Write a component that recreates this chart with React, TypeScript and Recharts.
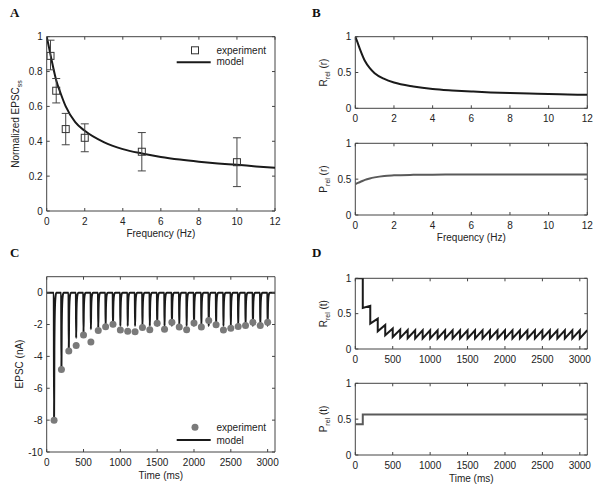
import React from 'react';
import { ComposedChart, Line, Scatter, XAxis, YAxis, ErrorBar, ReferenceArea, Legend } from 'recharts';

// ---------- Panel A data ----------
const freqExp = [0.2, 0.5, 1, 2, 5, 10];
const epscExp = [0.89, 0.69, 0.47, 0.42, 0.34, 0.28];
const epscErrLow = [0.08, 0.07, 0.09, 0.08, 0.11, 0.14];
const epscErrHigh = [0.09, 0.07, 0.09, 0.08, 0.11, 0.14];
const freqModel = [0, 0.1, 0.25, 0.5, 0.75, 1, 1.5, 2, 3, 4, 5, 6, 7, 8, 9, 10, 11, 12];
const epscModel = [1.0, 0.95, 0.87, 0.75, 0.67, 0.6, 0.51, 0.46, 0.395, 0.355, 0.33, 0.31, 0.295, 0.283, 0.273, 0.265, 0.256, 0.248];
const freqTicks = [0, 2, 4, 6, 8, 10, 12];
const epscTicks = [0, 0.2, 0.4, 0.6, 0.8, 1];

// ---------- Panel B data ----------
const rRelModel = [1.0, 0.93, 0.82, 0.66, 0.56, 0.49, 0.41, 0.36, 0.305, 0.27, 0.25, 0.235, 0.222, 0.212, 0.205, 0.198, 0.193, 0.188];
const pRelModel = [0.43, 0.445, 0.46, 0.49, 0.51, 0.525, 0.545, 0.553, 0.56, 0.563, 0.565, 0.565, 0.565, 0.565, 0.565, 0.565, 0.565, 0.565];
const relTicks = [0, 0.5, 1];

// ---------- Panel C data ----------
const stimTimes = [100, 200, 300, 400, 500, 600, 700, 800, 900, 1000, 1100, 1200, 1300, 1400, 1500, 1600, 1700, 1800, 1900, 2000, 2100, 2200, 2300, 2400, 2500, 2600, 2700, 2800, 2900, 3000];
const epscMeasured = [-8.0, -4.82, -3.67, -3.32, -2.66, -3.09, -2.37, -2.14, -1.98, -2.35, -2.43, -2.45, -2.19, -2.33, -1.92, -2.29, -1.86, -2.16, -2.33, -1.9, -2.16, -1.75, -2.02, -2.35, -2.23, -2.12, -2.06, -1.86, -2.06, -1.86];
const epscModelPeaks = [-8.1, -4.8, -3.55, -2.85, -2.5, -2.3, -2.2, -2.15, -2.12, -2.1, -2.1, -2.1, -2.1, -2.1, -2.1, -2.1, -2.1, -2.1, -2.1, -2.1, -2.1, -2.1, -2.1, -2.1, -2.1, -2.1, -2.1, -2.1, -2.1, -2.1];
const spikeOffsets = [-4, 0, 4, 10, 18, 30];
const spikeShape = [0, 1, 0.45, 0.15, 0.04, 0];
const timeTicks = [0, 500, 1000, 1500, 2000, 2500, 3000];
const epscNaTicks = [-10, -8, -6, -4, -2, 0];

// ---------- Panel D data ----------
const rBeforeStim = [1.0, 0.61, 0.43, 0.34, 0.29, 0.275, 0.268, 0.265, 0.265, 0.265, 0.265, 0.265, 0.265, 0.265, 0.265, 0.265, 0.265, 0.265, 0.265, 0.265, 0.265, 0.265, 0.265, 0.265, 0.265, 0.265, 0.265, 0.265, 0.265, 0.265];
const rAfterStim = [0.58, 0.36, 0.25, 0.195, 0.17, 0.158, 0.153, 0.15, 0.15, 0.15, 0.15, 0.15, 0.15, 0.15, 0.15, 0.15, 0.15, 0.15, 0.15, 0.15, 0.15, 0.15, 0.15, 0.15, 0.15, 0.15, 0.15, 0.15, 0.15, 0.15];
const rEnd = 0.265;
const pTimes = [0, 100, 100, 3100];
const pValues = [0.43, 0.43, 0.565, 0.565];

// ---------- tables built from the arrays ----------
const modelA = freqModel.map((x, i) => ({ x, y: epscModel[i] }));
const expA = freqExp.map((x, i) => ({ x, y: epscExp[i], err: [epscErrLow[i], epscErrHigh[i]] }));
const rRelB = freqModel.map((x, i) => ({ x, y: rRelModel[i] }));
const pRelB = freqModel.map((x, i) => ({ x, y: pRelModel[i] }));
const expC = stimTimes.map((x, i) => ({ x, y: epscMeasured[i] }));
const modelC: { x: number; y: number }[] = [{ x: 0, y: 0 }];
stimTimes.forEach((t, i) => {
  spikeOffsets.forEach((o, j) => modelC.push({ x: t + o, y: epscModelPeaks[i] * spikeShape[j] }));
});
modelC.push({ x: 3100, y: 0 });
const rRelD: { x: number; y: number }[] = [{ x: 0, y: 1 }];
stimTimes.forEach((t, i) => {
  rRelD.push({ x: t, y: rBeforeStim[i] });
  rRelD.push({ x: t, y: rAfterStim[i] });
});
rRelD.push({ x: 3100, y: rEnd });
const pRelD = pTimes.map((x, i) => ({ x, y: pValues[i] }));

// ---------- styling ----------
const FONT = '"Liberation Sans", Arial, Helvetica, sans-serif';
const AXIS = '#444';
const TEXT = '#222';
const LINE = '#1a1a1a';
const GRAY_LINE = '#5a5a5a';
const TICK = 3;

const makeXTick = (plotH: number) => (props: any) => {
  const { x, y, payload } = props;
  return (
    <g>
      <line x1={x} x2={x} y1={y} y2={y - TICK} stroke={AXIS} strokeWidth={1} />
      <line x1={x} x2={x} y1={y - plotH} y2={y - plotH + TICK} stroke={AXIS} strokeWidth={1} />
      <text x={x} y={y + 14} textAnchor="middle" fontSize={10} fill={TEXT} fontFamily={FONT}>
        {String(payload.value)}
      </text>
    </g>
  );
};

const makeYTick = (plotW: number) => (props: any) => {
  const { x, y, payload } = props;
  return (
    <g>
      <line x1={x} x2={x + TICK} y1={y} y2={y} stroke={AXIS} strokeWidth={1} />
      <line x1={x + plotW} x2={x + plotW - TICK} y1={y} y2={y} stroke={AXIS} strokeWidth={1} />
      <text x={x - 4} y={y + 3.5} textAnchor="end" fontSize={10} fill={TEXT} fontFamily={FONT}>
        {String(payload.value)}
      </text>
    </g>
  );
};

const YTitle = (props: any) => {
  const { px, py, main, sub, tail } = props;
  return (
    <text
      x={px}
      y={py}
      transform={`rotate(-90, ${px}, ${py})`}
      textAnchor="middle"
      fontSize={10}
      fill={TEXT}
      fontFamily={FONT}
    >
      <tspan>{main}</tspan>
      {sub ? (
        <tspan dy={3} fontSize={7}>
          {sub}
        </tspan>
      ) : null}
      {tail ? <tspan dy={sub ? -3 : 0}>{tail}</tspan> : null}
    </text>
  );
};

const SquareShape = (props: any) => {
  const { cx, cy } = props;
  return <rect x={cx - 3.5} y={cy - 3.5} width={7} height={7} fill="none" stroke="#333" strokeWidth={1} />;
};

const DotShape = (props: any) => {
  const { cx, cy } = props;
  return <circle cx={cx} cy={cy} r={3.5} fill="#7a7a7a" stroke="none" />;
};

const LegendA = () => (
  <svg width={100} height={32} style={{ display: 'block' }}>
    <rect x={21.5} y={8.8} width={7} height={7} fill="none" stroke="#333" strokeWidth={1} />
    <text x={46.5} y={15.5} fontSize={10} fill={TEXT} fontFamily={FONT}>experiment</text>
    <line x1={6.7} x2={40.7} y1={24.3} y2={24.3} stroke={LINE} strokeWidth={2} />
    <text x={46.5} y={27.3} fontSize={10} fill={TEXT} fontFamily={FONT}>model</text>
  </svg>
);

const LegendC = () => (
  <svg width={100} height={32} style={{ display: 'block' }}>
    <circle cx={25} cy={12.3} r={3.5} fill="#7a7a7a" />
    <text x={46.5} y={15.8} fontSize={10} fill={TEXT} fontFamily={FONT}>experiment</text>
    <line x1={6.7} x2={40.7} y1={25} y2={25} stroke={LINE} strokeWidth={2} />
    <text x={46.5} y={28.5} fontSize={10} fill={TEXT} fontFamily={FONT}>model</text>
  </svg>
);

const xLabel = (value: string) => ({ value, position: 'insideBottom' as const, offset: 0, fontSize: 10, fill: TEXT });

const panel = (left: number, top: number, children: React.ReactNode) => (
  <div style={{ position: 'absolute', left, top }}>{children}</div>
);

export default function App() {
  const aM = { top: 36.7, right: 25, bottom: 8, left: 0 };
  const aYW = 46.7;
  const aXH = 26;
  const aPW = 300 - aM.right - aYW;
  const aPH = 245 - aM.top - aM.bottom - aXH;

  const bM1 = { top: 36.7, right: 12.7, bottom: 2.7, left: 0 };
  const bM2 = { top: 15.3, right: 12.7, bottom: 2, left: 0 };
  const bYW = 55.3;
  const bPW = 300 - 12.7 - bYW;
  const bPH1 = 128 - bM1.top - bM1.bottom - 17;
  const bPH2 = 115 - bM2.top - bM2.bottom - 26;

  const cM = { top: 31.7, right: 25, bottom: 11, left: 0 };
  const cPH = 245 - cM.top - cM.bottom - 27;

  const dM1 = { top: 33.3, right: 12.7, bottom: 4, left: 0 };
  const dM2 = { top: 13.3, right: 12.7, bottom: 3, left: 0 };
  const dPH1 = 125 - dM1.top - dM1.bottom - 17;
  const dPH2 = 115 - dM2.top - dM2.bottom - 27;

  const axisCommon = { axisLine: false, tickLine: false, tickSize: 0, tickMargin: 0, interval: 0 as const, allowDataOverflow: true };

  return (
    <div style={{ position: 'absolute', left: 0, top: 0, width: 600, height: 490, background: '#fff', fontFamily: FONT }}>
      {panel(
        0,
        0,
        <ComposedChart width={300} height={245} margin={aM}>
          <XAxis type="number" dataKey="x" domain={[0, 12]} ticks={freqTicks} height={aXH} {...axisCommon} tick={makeXTick(aPH)} label={xLabel('Frequency (Hz)')} />
          <YAxis type="number" domain={[0, 1]} ticks={epscTicks} width={aYW} {...axisCommon} tick={makeYTick(aPW)} label={<YTitle px={18.5} py={124} main="Normalized EPSC" sub="ss" />} />
          <ReferenceArea x1={0} x2={12} y1={0} y2={1} fill="none" stroke={AXIS} strokeWidth={1} ifOverflow="visible" />
          <Line data={modelA} dataKey="y" type="monotone" stroke={LINE} strokeWidth={2} dot={false} isAnimationActive={false} />
          <Scatter data={expA} dataKey="y" shape={SquareShape} isAnimationActive={false}>
            <ErrorBar dataKey="err" direction="y" width={4} stroke="#444" strokeWidth={1} />
          </Scatter>
          <Legend
            layout="vertical"
            align="center"
            verticalAlign="middle"
            width={100}
            height={32}
            wrapperStyle={{ left: 170, top: 38, width: 100, height: 32 }}
            content={() => <LegendA />}
          />
        </ComposedChart>
      )}

      {panel(
        300,
        0,
        <ComposedChart width={300} height={128} margin={bM1}>
          <XAxis type="number" dataKey="x" domain={[0, 12]} ticks={freqTicks} height={17} {...axisCommon} tick={makeXTick(bPH1)} />
          <YAxis type="number" domain={[0, 1]} ticks={relTicks} width={bYW} {...axisCommon} tick={makeYTick(bPW)} label={<YTitle px={27} py={72.5} main="R" sub="rel" tail=" (r)" />} />
          <ReferenceArea x1={0} x2={12} y1={0} y2={1} fill="none" stroke={AXIS} strokeWidth={1} ifOverflow="visible" />
          <Line data={rRelB} dataKey="y" type="monotone" stroke={LINE} strokeWidth={2} dot={false} isAnimationActive={false} />
        </ComposedChart>
      )}

      {panel(
        300,
        128,
        <ComposedChart width={300} height={115} margin={bM2}>
          <XAxis type="number" dataKey="x" domain={[0, 12]} ticks={freqTicks} height={26} {...axisCommon} tick={makeXTick(bPH2)} label={xLabel('Frequency (Hz)')} />
          <YAxis type="number" domain={[0, 1]} ticks={relTicks} width={bYW} {...axisCommon} tick={makeYTick(bPW)} label={<YTitle px={27} py={51} main="P" sub="rel" tail=" (r)" />} />
          <ReferenceArea x1={0} x2={12} y1={0} y2={1} fill="none" stroke={AXIS} strokeWidth={1} ifOverflow="visible" />
          <Line data={pRelB} dataKey="y" type="monotone" stroke={GRAY_LINE} strokeWidth={2} dot={false} isAnimationActive={false} />
        </ComposedChart>
      )}

      {panel(
        0,
        245,
        <ComposedChart width={300} height={245} margin={cM}>
          <XAxis type="number" dataKey="x" domain={[0, 3100]} ticks={timeTicks} height={27} {...axisCommon} tick={makeXTick(cPH)} label={xLabel('Time (ms)')} />
          <YAxis type="number" domain={[-10, 1]} ticks={epscNaTicks} width={aYW} {...axisCommon} tick={makeYTick(aPW)} label={<YTitle px={23} py={119} main="EPSC (nA)" />} />
          <ReferenceArea x1={0} x2={3100} y1={-10} y2={1} fill="none" stroke={AXIS} strokeWidth={1} ifOverflow="visible" />
          <Line data={modelC} dataKey="y" type="monotone" stroke={LINE} strokeWidth={2} dot={false} isAnimationActive={false} />
          <Scatter data={expC} dataKey="y" shape={DotShape} isAnimationActive={false} />
          <Legend
            layout="vertical"
            align="center"
            verticalAlign="middle"
            width={100}
            height={32}
            wrapperStyle={{ left: 170, top: 170, width: 100, height: 32 }}
            content={() => <LegendC />}
          />
        </ComposedChart>
      )}

      {panel(
        300,
        245,
        <ComposedChart width={300} height={125} margin={dM1}>
          <XAxis type="number" dataKey="x" domain={[0, 3100]} ticks={timeTicks} height={17} {...axisCommon} tick={makeXTick(dPH1)} />
          <YAxis type="number" domain={[0, 1]} ticks={relTicks} width={bYW} {...axisCommon} tick={makeYTick(bPW)} label={<YTitle px={27} py={68.7} main="R" sub="rel" tail=" (t)" />} />
          <ReferenceArea x1={0} x2={3100} y1={0} y2={1} fill="none" stroke={AXIS} strokeWidth={1} ifOverflow="visible" />
          <Line data={rRelD} dataKey="y" type="linear" stroke={LINE} strokeWidth={2} dot={false} isAnimationActive={false} />
        </ComposedChart>
      )}

      {panel(
        300,
        370,
        <ComposedChart width={300} height={115} margin={dM2}>
          <XAxis type="number" dataKey="x" domain={[0, 3100]} ticks={timeTicks} height={27} {...axisCommon} tick={makeXTick(dPH2)} label={xLabel('Time (ms)')} />
          <YAxis type="number" domain={[0, 1]} ticks={relTicks} width={bYW} {...axisCommon} tick={makeYTick(bPW)} label={<YTitle px={27} py={49} main="P" sub="rel" tail=" (t)" />} />
          <ReferenceArea x1={0} x2={3100} y1={0} y2={1} fill="none" stroke={AXIS} strokeWidth={1} ifOverflow="visible" />
          <Line data={pRelD} dataKey="y" type="linear" stroke={GRAY_LINE} strokeWidth={2} dot={false} isAnimationActive={false} />
        </ComposedChart>
      )}

      <svg width={600} height={490} style={{ position: 'absolute', left: 0, top: 0, pointerEvents: 'none' }}>
        <g fontFamily='"Liberation Serif", "Times New Roman", serif' fontWeight="bold" fontSize={13} fill="#111">
          <text x={10} y={17}>A</text>
          <text x={312} y={17}>B</text>
          <text x={10} y={257}>C</text>
          <text x={312} y={257}>D</text>
        </g>
      </svg>
    </div>
  );
}
